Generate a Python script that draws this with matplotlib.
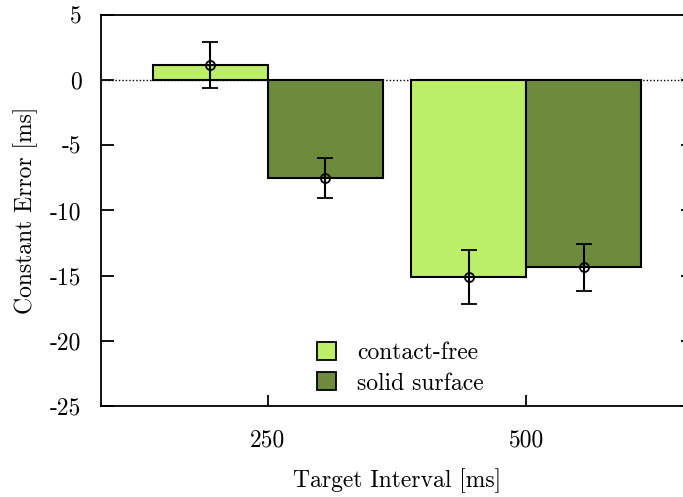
import numpy as np
import matplotlib
matplotlib.use('Agg')
import matplotlib.pyplot as plt
from matplotlib.patches import Patch

intervals = ['250', '500']
series = ['contact-free', 'solid surface']
colors = ['#BCEE68', '#6E8B3D']
means = {
    'contact-free': [1.15, -15.1],
    'solid surface': [-7.5, -14.35],
}
errs = {
    'contact-free': [1.77, 2.07],
    'solid surface': [1.53, 1.8],
}
yticks = [5, 0, -5, -10, -15, -20, -25]

plt.rcParams['font.family'] = ['cmr10', 'DejaVu Serif']
plt.rcParams['font.size'] = 17

fig = plt.figure(figsize=(6.83, 4.97), dpi=100)
# right edge of the axes runs past the canvas
ax = fig.add_axes([101 / 683, 1 - 406 / 497, 592 / 683, 391 / 497])

x = np.arange(len(intervals))
width = 0.4457

ax.axhline(0, color='black', linestyle=(0, (1, 1.5)), linewidth=1.0, zorder=1)

for i, name in enumerate(series):
    pos = x + (i - 0.5) * width
    ax.bar(pos, means[name], width, color=colors[i], edgecolor='black',
           linewidth=1.5, zorder=2)
    ax.errorbar(pos, means[name], yerr=errs[name], fmt='o', mfc='none',
                mec='black', ms=6.5, mew=1.3, ecolor='black', elinewidth=1.5,
                capsize=5.8, capthick=1.5, zorder=3)
    ax.plot(pos, means[name], '+', color='black', ms=6.5, mew=1.2, zorder=4)

ax.set_xlim(-0.647, 1.647)
ax.set_ylim(-25, 5)
ax.set_xticks(x)
ax.set_xticklabels(intervals)
ax.set_yticks(yticks)
ax.set_yticklabels([str(v) for v in yticks])

ax.tick_params(axis='y', direction='in', length=9, width=1.3, left=True, right=True, pad=14)
ax.tick_params(axis='x', direction='in', length=8, width=1.3, top=False, pad=17)
for s in ax.spines.values():
    s.set_linewidth(1.3)

ax.set_ylabel('Constant Error [ms]', labelpad=9)
ax.set_xlabel('Target Interval [ms]', labelpad=12)

handles = [Patch(facecolor=c, edgecolor='black', linewidth=1.3) for c in colors]
ax.legend(handles, series, loc='upper left', bbox_to_anchor=(298 / 683, 1 - 323 / 497),
          bbox_transform=fig.transFigure, frameon=False, handlelength=0.8,
          handleheight=0.8, handletextpad=0.9, labelspacing=0.35, borderpad=0.3)

fig.savefig('out.png', dpi=100)
